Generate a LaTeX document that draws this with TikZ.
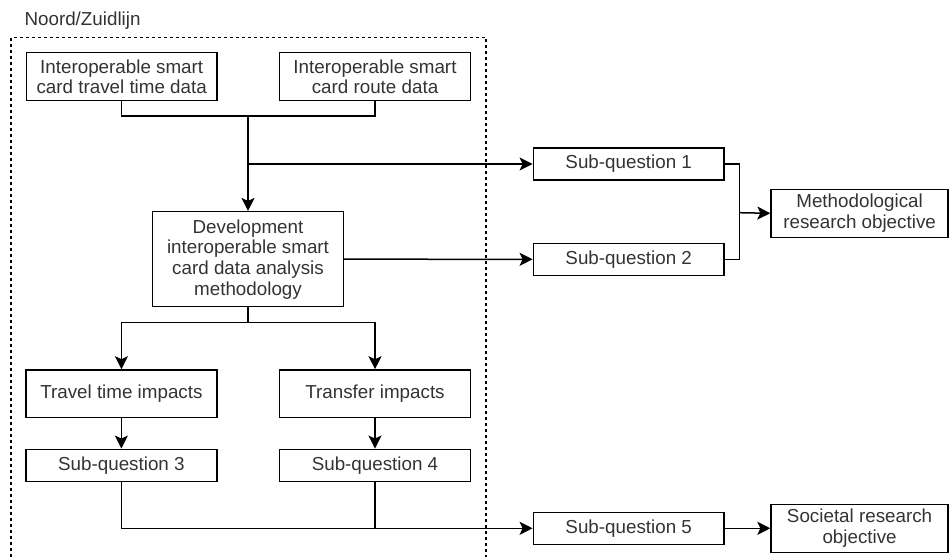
\documentclass[tikz,border=0pt]{standalone}
\usepackage{fontspec}
\setmainfont{Liberation Sans}
\usetikzlibrary{arrows.meta}
\begin{document}
\begin{tikzpicture}[x=1pt,y=-1pt,
  >={Stealth[length=13pt,width=13pt,inset=3pt]},
  box/.style={draw=black,line width=1.5pt,rectangle,align=center,text=black!80,
    font=\fontsize{18.8}{20.7}\selectfont,inner sep=0pt,minimum width=190.7pt},
  conn/.style={line width=1.5pt,draw=black},
  arr/.style={conn,->}]
\useasboundingbox (0,0) rectangle (949,557);
% dashed frame
\draw[line width=1.1pt,dash pattern=on 3pt off 3pt] (11,557) -- (11,37.7) -- (486,37.7) -- (486,557);
\node[anchor=west,text=black!80,font=\fontsize{18.8}{20.7}\selectfont] (lbl) at (21,21) {Noord/Zuidlijn};
% nodes
\node[box,minimum height=48pt] (b1) at (121.7,76.7) {Interoperable smart\\card travel time data};
\node[box,minimum height=48pt] (b2) at (375,76.7) {Interoperable smart\\card route data};
\node[box,minimum height=95pt] (b3) at (248,259.2) {Development\\interoperable smart\\card data analysis\\methodology};
\node[box,minimum height=32pt] (sq1) at (628.7,164) {Sub-question 1};
\node[box,minimum height=32pt] (sq2) at (628.7,259.3) {Sub-question 2};
\node[box,minimum height=48pt,minimum width=177pt] (mro) at (859.6,213.3) {Methodological\\research objective};
\node[box,minimum height=47.7pt] (tti) at (121.4,393.8) {Travel time impacts};
\node[box,minimum height=47.7pt] (ti) at (375,393.8) {Transfer impacts};
\node[box,minimum height=32pt] (sq3) at (121.4,465.3) {Sub-question 3};
\node[box,minimum height=32pt] (sq4) at (375,465.3) {Sub-question 4};
\node[box,minimum height=32pt] (sq5) at (628.7,528.3) {Sub-question 5};
\node[box,minimum height=48pt,minimum width=177pt] (sro) at (859.6,528.3) {Societal research\\objective};
% junction coordinates
\coordinate (j1) at (248,116);
\coordinate (j2) at (248,164);
\coordinate (j3) at (248,322.3);
\coordinate (jm) at (739.3,212.7);
% connectors
\draw[conn] (b1.south) |- (j1) -| (b2.south);
\draw[arr] (j1) -- (b3.north);
\draw[arr] (j2) -- (sq1.west);
\draw[arr] (b3.east) -- (sq2.west);
\draw[conn] (sq1.east) -| (jm) |- (sq2.east);
\draw[arr] (jm) -- (mro.west);
\draw[conn] (b3.south) -- (j3);
\draw[arr] (j3) -| (tti.north);
\draw[arr] (j3) -| (ti.north);
\draw[arr] (tti) -- (sq3);
\draw[arr] (ti) -- (sq4);
\draw[arr] (sq3.south) |- (sq5.west);
\draw[conn] (sq4.south) -- (sq4.south |- sq5.west);
\draw[arr] (sq5) -- (sro);
\end{tikzpicture}
\end{document}
